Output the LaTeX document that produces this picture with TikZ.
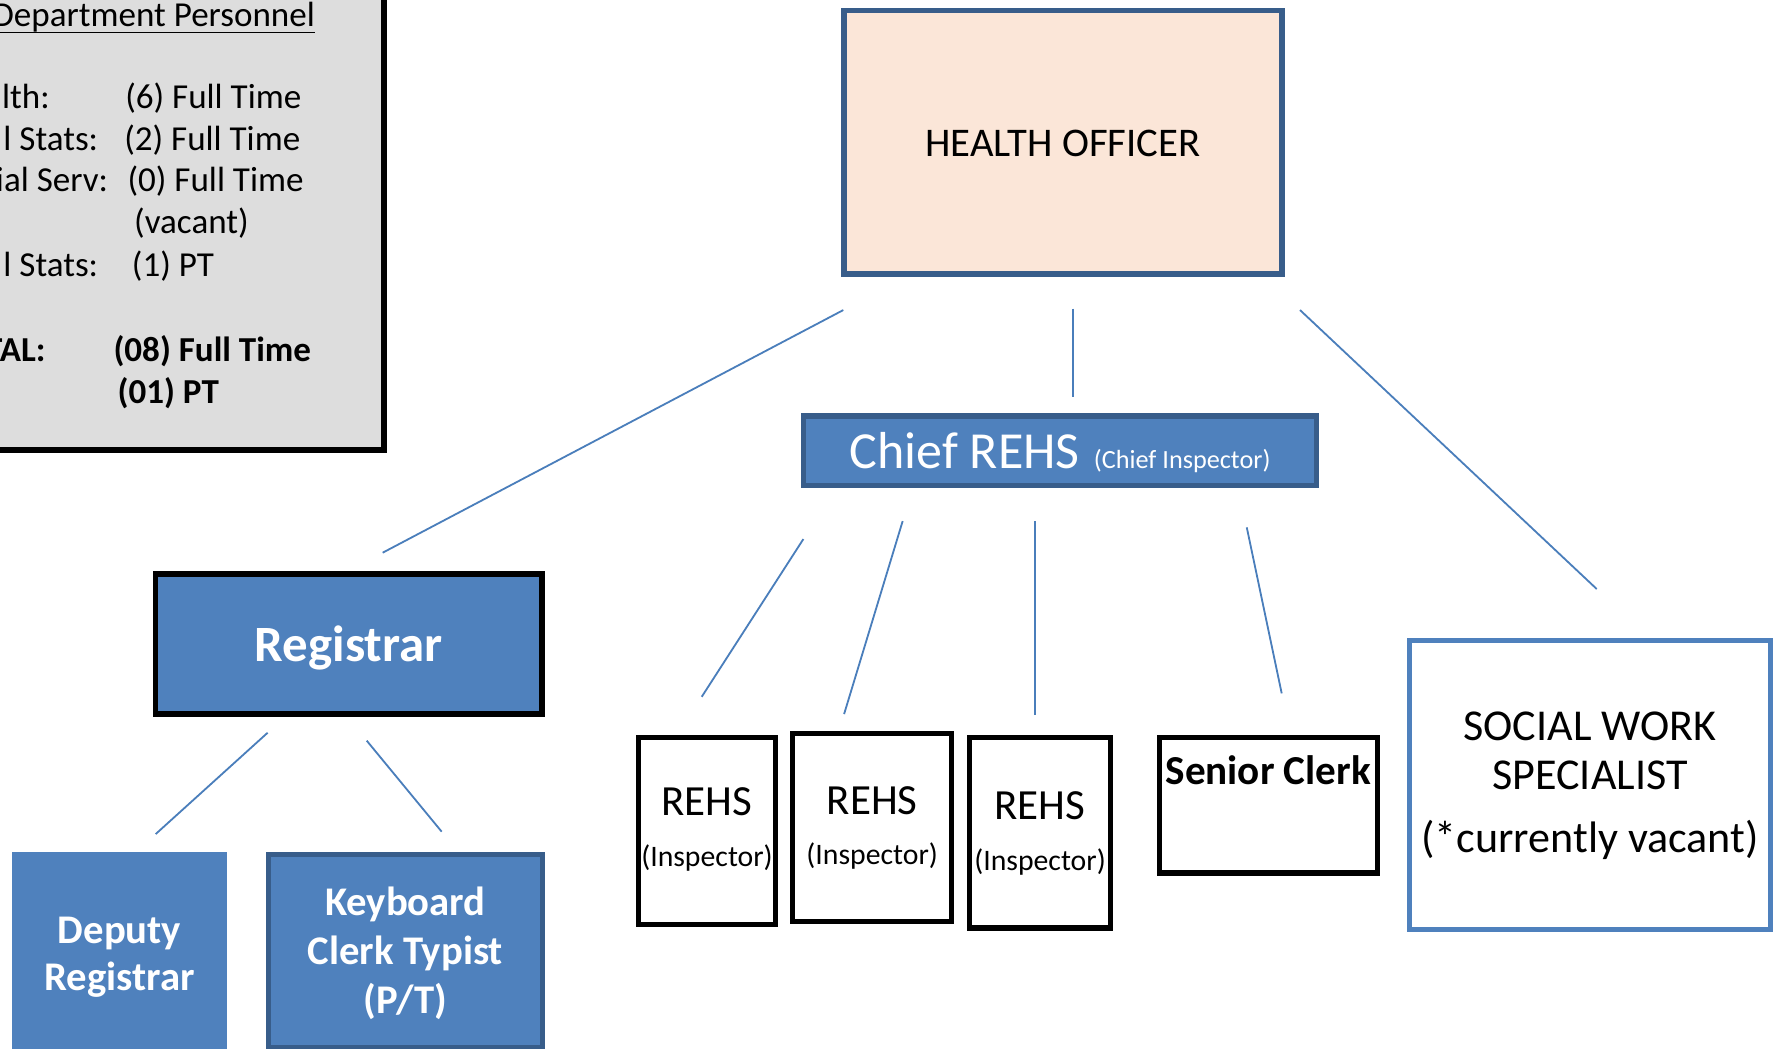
\documentclass[tikz,border=0pt]{standalone}
\usepackage{fontspec}
\setmainfont{Carlito}
\definecolor{accent}{RGB}{79,129,189}
\definecolor{darkedge}{RGB}{56,93,138}
\definecolor{peach}{RGB}{251,230,216}
\definecolor{linkblue}{RGB}{74,126,187}
\definecolor{panelgray}{RGB}{221,221,221}
\newcommand{\stacklines}[1]{\begin{tabular}[t]{@{}c@{}}#1\end{tabular}}
\newcommand{\fsz}[2]{\fontsize{#1}{#2}\selectfont}
\begin{document}
\begin{tikzpicture}[x=1pt,y=-1pt,
  orgbox/.style={rectangle, inner sep=0pt, outer sep=0pt},
  link/.style={draw=linkblue, line width=1.6pt},
  paneltext/.style={inner sep=0pt, font=\fsz{31}{37}},
  panelbold/.style={inner sep=0pt, font=\fsz{31}{37}\bfseries},
]
\useasboundingbox (0,0) rectangle (1568,927);
\clip (0,0) rectangle (1568,927);
\fill[white] (0,0) rectangle (1568,927);

% personnel panel
\node[orgbox, draw=black, fill=panelgray, line width=5pt, minimum width=420pt, minimum height=440pt, anchor=south east] (panel) at (339.4,398) {};
\node[paneltext, anchor=base east] (title) at (278.6,23.6) {Department Personnel};
\draw[line width=1.3pt] ([yshift=-5pt]title.base west) -- ([yshift=-5pt]title.base east);
\node[paneltext, anchor=base east] (h1) at (44.2,95.8) {lth:};
\node[paneltext, anchor=base west] (v1) at (110.6,95.8) {(6) Full Time};
\node[paneltext, anchor=base east] (h2) at (87,132.7) {l Stats:};
\node[paneltext, anchor=base west] (v2) at (109.7,132.7) {(2) Full Time};
\node[paneltext, anchor=base east] (h3) at (95.8,169.5) {ial Serv:};
\node[paneltext, anchor=base west] (v3) at (112.6,169.5) {(0) Full Time};
\node[paneltext, anchor=base west] (v3b) at (118.5,206.4) {(vacant)};
\node[paneltext, anchor=base east] (h4) at (87,244.7) {l Stats:};
\node[paneltext, anchor=base west] (v4) at (116.5,244.7) {(1) PT};
\node[panelbold, anchor=base east] (h5) at (40.5,319.9) {TAL:};
\node[panelbold, anchor=base west] (v5) at (100.2,319.9) {(08) Full Time};
\node[panelbold, anchor=base west] (v5b) at (103.8,356.7) {(01) PT};

% boxes
\node[orgbox, draw=darkedge, fill=peach, line width=5pt, minimum width=387.2pt,
  text height=129.5pt, text depth=103.6pt, font=\fsz{36}{43}] (ho) at (939.9,125.7) {HEALTH OFFICER};

\node[orgbox, draw=darkedge, fill=accent, line width=4.7pt, minimum width=453.6pt,
  text height=46.2pt, text depth=15.4pt, text=white] (chief) at (937.6,398.6)
  {{\fsz{46}{55}Chief REHS }{\fsz{23.2}{28}\hspace{2pt}(Chief Inspector)}};

\node[orgbox, draw=black, fill=accent, line width=5pt, minimum width=342pt,
  text height=77.7pt, text depth=46.4pt, text=white, font=\fsz{45}{54}\bfseries] (reg) at (308.5,569.55) {Registrar};

\node[orgbox, fill=accent, minimum width=189.5pt,
  text height=80.5pt, text depth=119.5pt, text=white, font=\fsz{36}{41.3}\bfseries] (dep) at (105.75,853.8)
  {\stacklines{Deputy\\Registrar}};

\node[orgbox, draw=darkedge, fill=accent, line width=4.4pt, minimum width=242.5pt,
  text height=53.2pt, text depth=117.3pt, text=white, font=\fsz{36}{43.5}\bfseries] (kbd) at (358.55,841.25)
  {\stacklines{Keyboard\\Clerk Typist\\(P/T)}};

\node[orgbox, draw=black, fill=white, line width=4.6pt, minimum width=121.5pt,
  text height=69.1pt, text depth=96.2pt, font=\fsz{26.3}{45.1}] (r1) at (625.25,734.95)
  {\stacklines{{\fsz{38}{45.1}REHS}\\(Inspector)}};
\node[orgbox, draw=black, fill=white, line width=4.6pt, minimum width=140.6pt,
  text height=71.3pt, text depth=94.8pt, font=\fsz{26.3}{44.2}] (r2) at (771.3,731.65)
  {\stacklines{{\fsz{38}{44.2}REHS}\\(Inspector)}};
\node[orgbox, draw=black, fill=white, line width=4.6pt, minimum width=124.1pt,
  text height=72pt, text depth=96.3pt, font=\fsz{26.3}{45.1}] (r3) at (919.75,736.45)
  {\stacklines{{\fsz{38}{45.1}REHS}\\(Inspector)}};

\node[orgbox, draw=black, fill=white, line width=4.6pt, minimum width=192.8pt,
  text height=42pt, text depth=78pt, font=\fsz{36.4}{43}\bfseries] (sc) at (1121.6,712) {Senior Clerk};

\node[orgbox, draw=accent, fill=white, line width=4.4pt, minimum width=319.7pt,
  text height=88.6pt, text depth=167pt, font=\fsz{39}{43}] (soc) at (1406.15,694.2)
  {\stacklines{SOCIAL WORK\\SPECIALIST\\[13pt](*currently vacant)}};

% connector end points
\coordinate (hoRegA) at (745.8,274.2);  \coordinate (hoRegB) at (338.4,488.8);
\coordinate (hoChA) at (949,273);       \coordinate (hoChB) at (949,351);
\coordinate (hoSocA) at (1149.7,274.2); \coordinate (hoSocB) at (1412.1,520.9);
\coordinate (chR1A) at (710.5,476.7);   \coordinate (chR1B) at (620.6,616.2);
\coordinate (chR2A) at (798.3,460.8);   \coordinate (chR2B) at (746.5,631.5);
\coordinate (chR3A) at (915.4,460.8);   \coordinate (chR3B) at (915.4,632);
\coordinate (chScA) at (1102.6,466.4);  \coordinate (chScB) at (1133.5,613.2);
\coordinate (regDepA) at (236.7,648);   \coordinate (regDepB) at (137.7,737.6);
\coordinate (regKbA) at (324.3,655);    \coordinate (regKbB) at (390.6,735.5);

\draw[link] (hoRegA) -- (hoRegB);
\draw[link] (hoChA) -- (hoChB);
\draw[link] (hoSocA) -- (hoSocB);
\draw[link] (chR1A) -- (chR1B);
\draw[link] (chR2A) -- (chR2B);
\draw[link] (chR3A) -- (chR3B);
\draw[link] (chScA) -- (chScB);
\draw[link] (regDepA) -- (regDepB);
\draw[link] (regKbA) -- (regKbB);
\end{tikzpicture}
\end{document}
